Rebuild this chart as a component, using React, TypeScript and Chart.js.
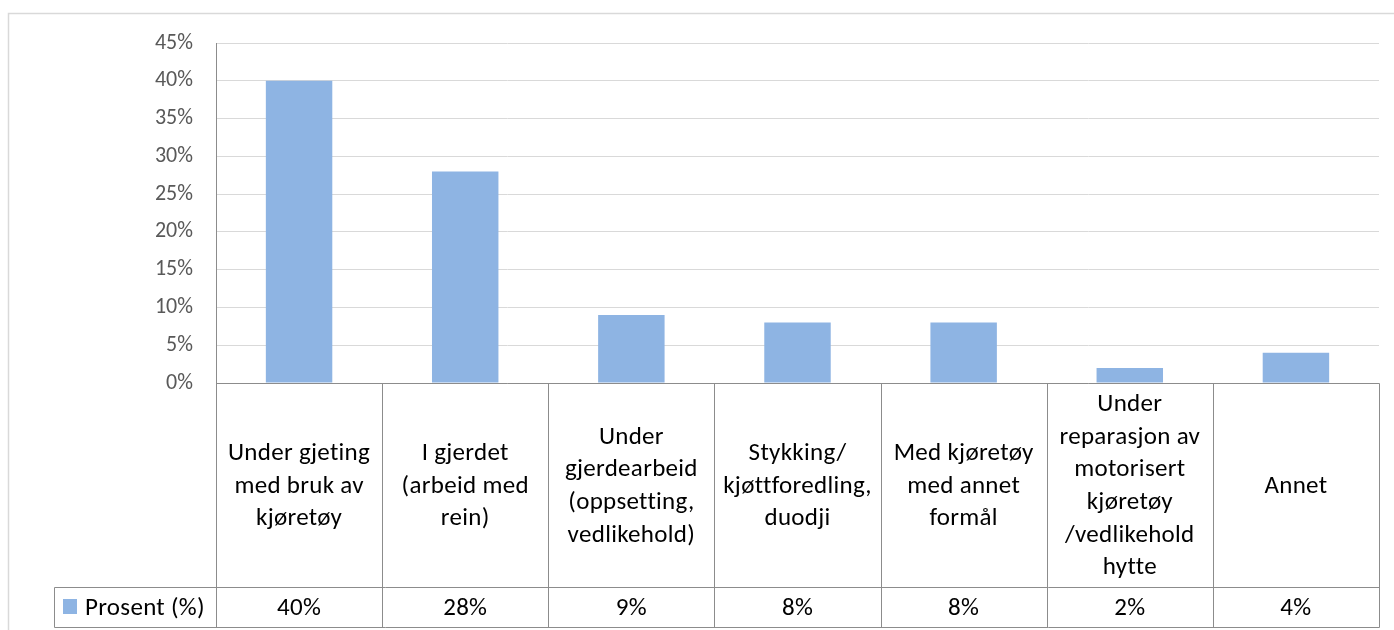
import React, { useEffect, useRef } from "react";
import { Chart, registerables } from "chart.js";

Chart.register(...registerables);

const categories: string[][] = [
  ["Under gjeting", "med bruk av", "kjøretøy"],
  ["I gjerdet", "(arbeid med", "rein)"],
  ["Under", "gjerdearbeid", "(oppsetting,", "vedlikehold)"],
  ["Stykking/", "kjøttforedling,", "duodji"],
  ["Med kjøretøy", "med annet", "formål"],
  ["Under", "reparasjon av", "motorisert", "kjøretøy", "/vedlikehold", "hytte"],
  ["Annet"],
];
const seriesName = "Prosent (%)";
const values: number[] = [40, 28, 9, 8, 8, 2, 4];
const valueLabels: string[] = ["40%", "28%", "9%", "8%", "8%", "2%", "4%"];
const yMax = 45;
const yStep = 5;

const FONT = "Carlito, Calibri, Lato, sans-serif";
const BAR = "#8eb4e3";
const LINE = "#8c8c8c";

const tablePlugin = {
  id: "dataTable",
  beforeDraw(chart: any) {
    const ctx = chart.ctx;
    ctx.save();
    ctx.strokeStyle = "#d9d9d9";
    ctx.lineWidth = 1.5;
    ctx.strokeRect(8.5, 13.5, 1500, 800);
    ctx.restore();
  },
  afterDraw(chart: any) {
    const ctx = chart.ctx;
    const xs = chart.scales.x;
    const area = chart.chartArea;
    const n = categories.length;
    const colW = xs.getPixelForValue(1) - xs.getPixelForValue(0);
    const top = Math.round(area.bottom) + 0.5;
    const split = top + 204;
    const bottom = split + 40;
    const left = Math.round(area.left) + 0.5;
    const legendLeft = 54.5;
    ctx.save();
    ctx.strokeStyle = LINE;
    ctx.lineWidth = 1;
    ctx.beginPath();
    ctx.moveTo(left, top);
    ctx.lineTo(Math.round(area.right) + 0.5, top);
    ctx.moveTo(legendLeft, split);
    ctx.lineTo(Math.round(area.right) + 0.5, split);
    ctx.moveTo(legendLeft, bottom);
    ctx.lineTo(Math.round(area.right) + 0.5, bottom);
    ctx.moveTo(legendLeft, split);
    ctx.lineTo(legendLeft, bottom);
    for (let i = 0; i <= n; i++) {
      const bx = Math.round(xs.getPixelForValue(i) - colW / 2) + 0.5;
      ctx.moveTo(bx, top);
      ctx.lineTo(bx, bottom);
    }
    ctx.stroke();

    ctx.fillStyle = "#000000";
    ctx.font = `25px ${FONT}`;
    try {
      (ctx as any).letterSpacing = "0.3px";
    } catch (e) {}
    ctx.textAlign = "center";
    ctx.textBaseline = "middle";
    const lh = 32.6;
    const midCat = (top + split) / 2 + 1;
    categories.forEach((lines, i) => {
      const cx = xs.getPixelForValue(i);
      const y0 = midCat - ((lines.length - 1) * lh) / 2;
      lines.forEach((ln, j) => ctx.fillText(ln, cx, y0 + j * lh));
      ctx.fillText(valueLabels[i], cx, (split + bottom) / 2 + 1);
    });

    // legend key
    ctx.fillStyle = BAR;
    ctx.fillRect(63, 599, 14, 15);
    ctx.fillStyle = "#000000";
    ctx.textAlign = "left";
    ctx.fillText(seriesName, 85, (split + bottom) / 2 + 1);
    ctx.restore();
  },
};

export default function App() {
  const ref = useRef<HTMLCanvasElement | null>(null);
  useEffect(() => {
    document.body.style.margin = "0";
    const canvas = ref.current!;
    const chart = new Chart(canvas, {
      type: "bar",
      data: {
        labels: categories,
        datasets: [
          {
            label: seriesName,
            data: values,
            backgroundColor: BAR,
            borderWidth: 0,
            barPercentage: 0.4,
            categoryPercentage: 1,
          },
        ],
      },
      options: {
        responsive: false,
        animation: false,
        devicePixelRatio: 1,
        layout: { padding: { left: 0, top: 43, right: 15, bottom: 247 } },
        plugins: { legend: { display: false }, tooltip: { enabled: false } },
        scales: {
          x: {
            display: true,
            ticks: { display: false },
            grid: { display: false, drawTicks: false },
            border: { display: false },
          },
          y: {
            min: 0,
            max: yMax,
            afterFit: (s: any) => {
              s.width = 216;
            },
            ticks: {
              stepSize: yStep,
              padding: 23,
              color: "#595959",
              font: { family: FONT, size: 22 },
              callback: (v: any) => `${v}%`,
            },
            grid: { color: "#d9d9d9", lineWidth: 1, drawTicks: false },
            border: { display: true, color: LINE, width: 1 },
          },
        },
      },
      plugins: [tablePlugin],
    });
    return () => chart.destroy();
  }, []);
  return (
    <canvas
      ref={ref}
      width={1394}
      height={630}
      style={{ display: "block", width: 1394, height: 630 }}
    />
  );
}
